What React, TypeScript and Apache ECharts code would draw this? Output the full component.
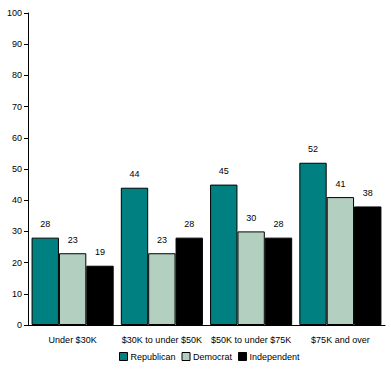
import React, { useEffect, useRef } from "react";
import * as echarts from "echarts";

const categories = ["Under $30K", "$30K to under $50K", "$50K to under $75K", "$75K and over"];
const republican = [28, 44, 45, 52];
const democrat = [23, 23, 30, 41];
const independent = [19, 28, 28, 38];

export default function App() {
  const ref = useRef<HTMLDivElement>(null);
  useEffect(() => {
    const chart = echarts.init(ref.current!, null, { renderer: "svg" });
    const font = "Arial, 'Liberation Sans', sans-serif";
    const mk = (name: string, data: number[], color: string) => ({
      name,
      type: "bar",
      data,
      barGap: "0%",
      barCategoryGap: "8%",
      itemStyle: { color, borderColor: "#000", borderWidth: 1 },
      label: {
        show: true,
        position: "top",
        distance: 9,
        color: "#000",
        fontSize: 9,
        fontFamily: font,
      },
    });
    chart.setOption({
      animation: false,
      backgroundColor: "#fff",
      grid: { left: 28, right: 6, top: 13, bottom: 49, containLabel: false },
      legend: {
        bottom: 8,
        left: 114,
        itemWidth: 8,
        itemHeight: 8,
        itemGap: 6,
        icon: "rect",
        textStyle: { fontSize: 9, fontFamily: font, color: "#000", padding: [0, 0, 0, -2] },
        data: ["Republican", "Democrat", "Independent"].map((n) => ({
          name: n,
          itemStyle: { borderColor: "#000", borderWidth: 1 },
        })),
      },
      xAxis: {
        type: "category",
        data: categories,
        axisLine: { lineStyle: { color: "#000", width: 1 } },
        axisTick: { show: false },
        axisLabel: { interval: 0, fontSize: 9, fontFamily: font, color: "#000", margin: 10 },
      },
      yAxis: {
        type: "value",
        min: 0,
        max: 100,
        interval: 10,
        axisLine: { show: true, lineStyle: { color: "#000", width: 1 } },
        axisTick: { show: true, length: 4, lineStyle: { color: "#000" } },
        splitLine: { show: false },
        axisLabel: { fontSize: 9, fontFamily: font, color: "#000", margin: 6 },
      },
      series: [
        mk("Republican", republican, "#008080"),
        mk("Democrat", democrat, "#b3cfbf"),
        mk("Independent", independent, "#000000"),
      ],
    });
    return () => chart.dispose();
  }, []);
  return <div ref={ref} style={{ position: "fixed", left: 0, top: 0, width: 391, height: 374 }} />;
}
